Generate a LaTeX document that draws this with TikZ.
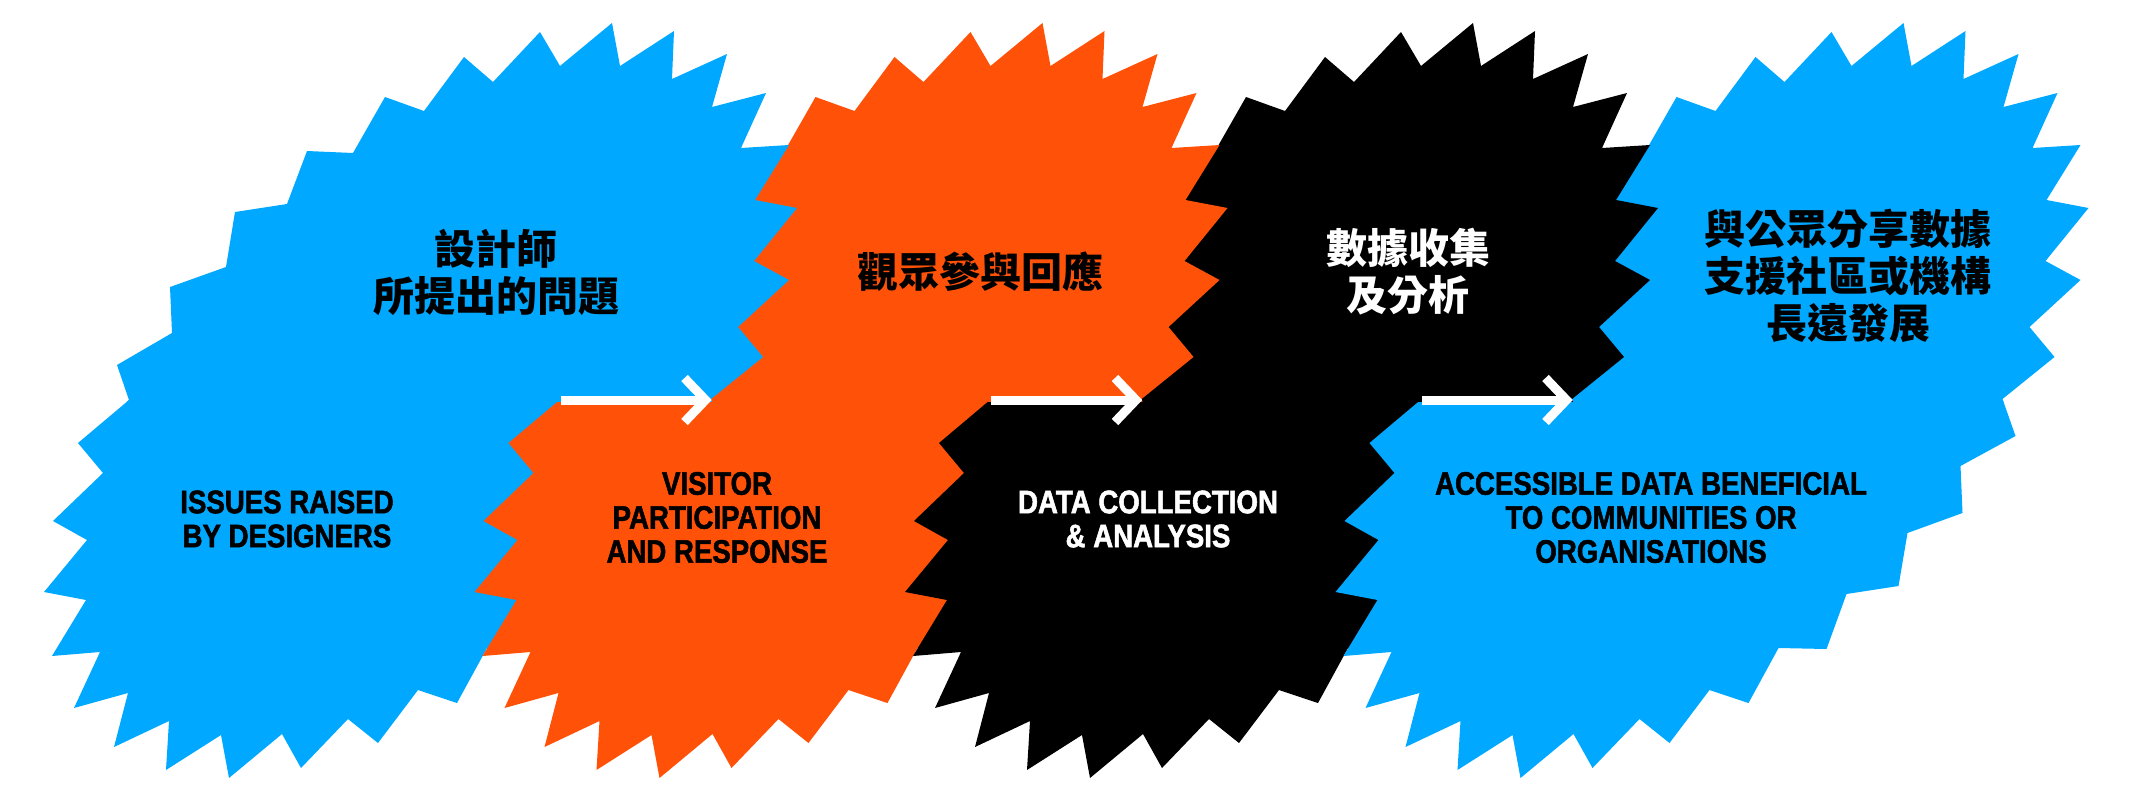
\documentclass[tikz,border=0pt]{standalone}
\usepackage{fontspec}
\newfontfamily\engfont[FakeStretch=0.85,BoldFeatures={FakeStretch=0.85,FakeBold=1.6}]{Liberation Sans}
\newfontfamily\cjkfont{Noto Sans CJK TC}
\definecolor{burstblue}{RGB}{0,168,255}
\definecolor{burstorange}{RGB}{255,82,8}
\newcommand\drawburst[2]{%
  \fill[#1, shift={(#2,0)}]
  (129,400) -- (117,365) -- (172,333) -- (170,287) -- (226,267) -- (235,212) --
  (287,204) -- (307,151) -- (353,153) -- (385,97) -- (424,111) -- (464,57) --
  (493,82) -- (540,32) -- (560,66) -- (612,23) -- (620,66) -- (674,31) --
  (672,79) -- (727,54) -- (712,107) -- (766,93) -- (741,148) -- (789,145) --
  (755,200) -- (797,208) -- (754,261) -- (789,280) -- (738,327) -- (763,357) --
  (711,399) -- (724,436) -- (669,466) -- (671,513) -- (616,533) -- (607,586) --
  (555,594) -- (535,649) -- (487,648) -- (457,703) -- (418,690) -- (378,743) --
  (348,719) -- (301,768) -- (282,734) -- (229,778) -- (221,735) -- (166,770) --
  (169,721) -- (114,747) -- (128,693) -- (74,708) -- (100,652) -- (52,656) --
  (86,600) -- (44,592) -- (87,540) -- (53,521) -- (103,473) -- (78,443) -- cycle;}
\tikzset{
  cjk/.style={font=\cjkfont\bfseries\fontsize{41}{47}\selectfont, align=center, inner sep=0pt},
  eng/.style={font=\engfont\bfseries\fontsize{32.5}{34}\selectfont, align=center, inner sep=0pt},
  arrowline/.style={draw=white, line width=9pt, miter limit=10}
}
\begin{document}
\begin{tikzpicture}[x=1pt,y=-1pt]
\useasboundingbox (0,0) rectangle (2132,800);
% lower halves: right shapes on top
\begin{scope}
  \clip (0,400) rectangle (2132,800);
  \drawburst{burstblue}{0}
  \drawburst{burstorange}{430.5}
  \drawburst{black}{861}
  \drawburst{burstblue}{1291.5}
\end{scope}
% upper halves: left shapes on top
\begin{scope}
  \clip (0,0) rectangle (2132,401);
  \drawburst{burstblue}{1291.5}
  \drawburst{black}{861}
  \drawburst{burstorange}{430.5}
  \drawburst{burstblue}{0}
\end{scope}
% texts
\node[cjk] (c1) at (496,272) {設計師\\所提出的問題};
\node[cjk] (c2) at (980,272) {觀眾參與回應};
\node[cjk, text=white] (c3) at (1408,272) {數據收集\\及分析};
\node[cjk] (c4) at (1848,276) {與公眾分享數據\\支援社區或機構\\長遠發展};
\node[eng] (e1) at (287,519) {ISSUES RAISED\\BY DESIGNERS};
\node[eng] (e2) at (717,517.5) {VISITOR\\PARTICIPATION\\AND RESPONSE};
\node[eng, text=white] (e3) at (1148,519) {DATA COLLECTION\\\& ANALYSIS};
\node[eng] (e4) at (1651,517.5) {ACCESSIBLE DATA BENEFICIAL\\TO COMMUNITIES OR\\ORGANISATIONS};
% arrows
\coordinate (a1s) at (560.5,400); \coordinate (a1t) at (705.5,400);
\coordinate (a2s) at (991,400);   \coordinate (a2t) at (1136,400);
\coordinate (a3s) at (1421.5,400);\coordinate (a3t) at (1566.5,400);
\foreach \s/\t in {a1s/a1t, a2s/a2t, a3s/a3t}{
  \draw[arrowline] (\s) -- (\t);
  \draw[arrowline] ([shift={(-21,-22)}]\t) -- (\t) -- ([shift={(-21,22)}]\t);
}
\end{tikzpicture}
\end{document}
